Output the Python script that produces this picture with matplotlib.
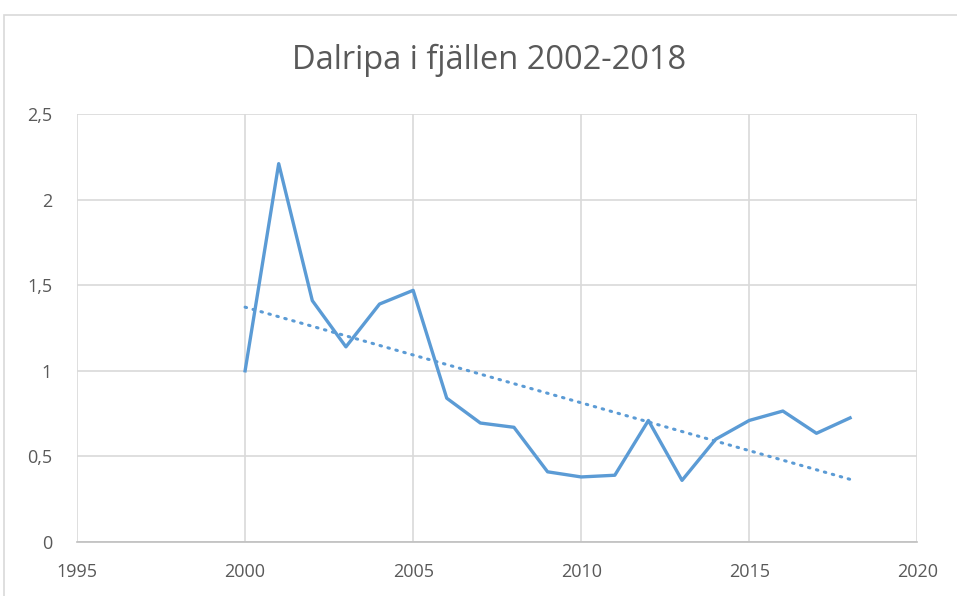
import numpy as np
import matplotlib.pyplot as plt
from matplotlib.patches import Rectangle

# Dalripa index per year
years = [2000, 2001, 2002, 2003, 2004, 2005, 2006, 2007, 2008, 2009,
         2010, 2011, 2012, 2013, 2014, 2015, 2016, 2017, 2018]
index = [1.00, 2.21, 1.41, 1.14, 1.39, 1.47, 0.84, 0.695, 0.67, 0.41,
         0.38, 0.39, 0.71, 0.36, 0.60, 0.71, 0.765, 0.635, 0.725]

x_ticks = [1995, 2000, 2005, 2010, 2015, 2020]
y_ticks = [0, 0.5, 1, 1.5, 2, 2.5]
y_labels = ['0', '0,5', '1', '1,5', '2', '2,5']

blue = '#5B9BD5'
grey_txt = '#595959'

plt.rcParams['font.family'] = ['Open Sans', 'DejaVu Sans']

fig = plt.figure(figsize=(9.57, 5.96), dpi=100)
ax = fig.add_axes([0.0805, 0.0906, 0.878, 0.7181])

# outer chart border
fig.patches.append(Rectangle((4 / 957, -0.1), 1.2, (596 - 15) / 596 + 0.1,
                             transform=fig.transFigure, fill=False,
                             edgecolor='#d9d9d9', linewidth=1.2))

ax.plot(years, index, color=blue, linewidth=2.4, solid_joinstyle='round', zorder=3)

# linear trendline
k, m = np.polyfit(years, index, 1)
tx = np.array([years[0], years[-1]])
ax.plot(tx, k * tx + m, color=blue, linewidth=2.2, linestyle=(0, (0.5, 2.2)),
        dash_capstyle='round', zorder=3)

ax.set_xlim(1995, 2020)
ax.set_ylim(0, 2.5)
ax.set_xticks(x_ticks)
ax.set_yticks(y_ticks)
ax.set_yticklabels(y_labels)
ax.grid(True, color='#d9d9d9', linewidth=1.2)
ax.set_axisbelow(True)
for s in ['top', 'right', 'left']:
    ax.spines[s].set_visible(False)
ax.spines['bottom'].set_color('#bfbfbf')
ax.spines['bottom'].set_linewidth(1.2)
ax.tick_params(length=0, labelsize=13, colors=grey_txt)
ax.tick_params(axis='x', pad=15)
ax.tick_params(axis='y', pad=18)
for lab in ax.get_yticklabels():
    lab.set_horizontalalignment('right')

fig.text(0.511, 0.899, 'Dalripa i fjällen 2002-2018', ha='center', va='center',
         fontsize=23.5, color=grey_txt)

fig.savefig('out.png', dpi=100)
